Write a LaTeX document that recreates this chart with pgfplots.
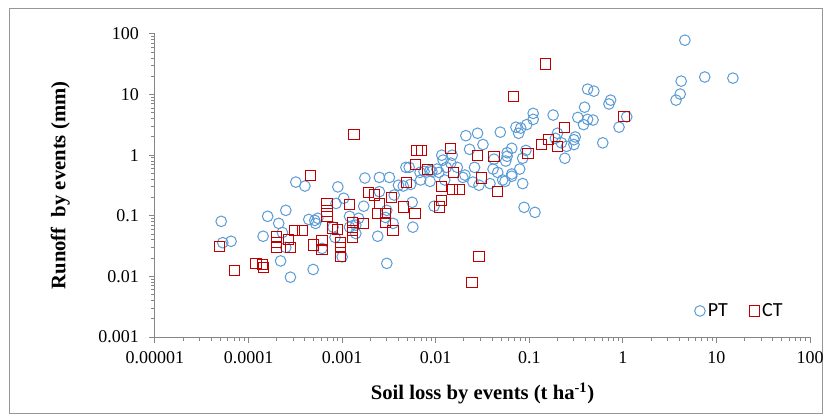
\documentclass[border=0pt]{standalone}
\usepackage{fontspec}
\setmainfont{Liberation Serif}
\newfontfamily\legendfont{Carlito}
\usepackage{pgfplots}
\pgfplotsset{compat=1.18}
\definecolor{ptblue}{RGB}{91,155,213}
\definecolor{ctred}{RGB}{192,0,0}
\definecolor{axgray}{RGB}{134,134,134}
\definecolor{framegray}{RGB}{150,150,150}

\pgfplotstableread{
x y
4.6 79
7.5 19.5
15 18.7
4.2 16.7
4.1 10.2
3.7 8.1
0.42 12.3
0.49 11.4
0.74 8.1
0.71 7.0
0.39 6.2
0.11 4.9
0.11 3.9
0.18 4.6
0.33 4.2
0.42 3.9
0.48 3.8
0.38 3.2
1.1 4.3
0.91 2.9
0.072 2.9
0.081 2.8
0.094 3.2
0.077 2.3
0.049 2.4
0.028 2.3
0.021 2.1
0.20 2.3
0.31 2.0
0.30 1.8
0.30 1.5
0.19 1.9
0.22 1.6
0.25 1.4
0.61 1.6
0.032 1.5
0.023 1.25
0.065 1.3
0.058 1.1
0.092 1.2
0.085 0.89
0.24 0.89
0.026 0.63
0.041 0.59
0.046 0.52
0.079 0.59
0.065 0.49
0.058 0.96
0.056 0.80
0.0116 1.0
0.012 0.83
0.015 1.0
0.0048 0.63
0.0052 0.63
0.017 0.63
0.0103 0.59
0.0091 0.54
0.0145 0.74
0.0205 0.47
0.065 0.45
0.052 0.39
0.038 0.34
0.029 0.32
0.085 0.34
0.055 0.37
0.088 0.138
0.115 0.114
0.013 0.63
0.0125 0.39
0.042 0.86
0.0195 0.43
0.025 0.36
0.0087 0.56
0.0108 0.52
0.0068 0.52
0.0075 0.54
0.0069 0.39
0.0087 0.37
0.0054 0.33
0.0040 0.32
0.0045 0.31
0.0036 0.22
0.0025 0.25
0.00175 0.42
0.0025 0.43
0.0032 0.43
0.0009 0.30
0.00104 0.195
0.0017 0.144
0.00086 0.16
0.0056 0.167
0.0096 0.144
0.0030 0.123
0.0029 0.094
0.0035 0.075
0.0057 0.065
0.0012 0.098
0.0015 0.091
0.0014 0.070
0.0014 0.051
0.0008 0.065
0.0012 0.065
0.0024 0.046
0.0010 0.021
0.0030 0.0164
0.00084 0.044
0.00032 0.36
0.00040 0.31
0.00049 0.013
0.00044 0.087
0.00051 0.084
0.00055 0.091
0.00052 0.075
0.000143 0.046
0.00016 0.098
0.00021 0.075
0.00025 0.123
0.00022 0.018
0.00028 0.0097
0.000051 0.081
0.000053 0.036
0.000065 0.038
0.00023 0.053
0.00025 0.030
0.00061 0.029
}\ptdata

\pgfplotstableread{
x y
0.15 32
0.068 9.4
0.00134 2.2
1.03 4.3
0.24 2.9
0.16 1.8
0.136 1.5
0.20 1.4
0.028 1.0
0.042 0.96
0.097 1.08
0.031 0.42
0.046 0.25
0.0116 0.30
0.015 0.27
0.018 0.27
0.0116 0.18
0.011 0.14
0.0145 1.3
0.0156 0.52
0.029 0.021
0.0244 0.0080
0.0063 1.2
0.0071 1.2
0.0061 0.71
0.0081 0.59
0.0049 0.36
0.00046 0.47
0.0019 0.24
0.0022 0.22
0.0025 0.16
0.0034 0.20
0.0045 0.14
0.0060 0.11
0.0024 0.11
0.0029 0.11
0.0029 0.078
0.0035 0.058
0.0012 0.155
0.00069 0.16
0.00069 0.12
0.00069 0.098
0.0013 0.078
0.0013 0.058
0.0013 0.044
0.0017 0.075
0.0009 0.060
0.00079 0.063
0.00097 0.036
0.00097 0.030
0.00097 0.021
0.000049 0.031
0.000070 0.0126
0.00012 0.0164
0.00014 0.0158
0.000143 0.0141
0.00020 0.046
0.00020 0.036
0.00020 0.030
0.00027 0.041
0.00031 0.058
0.00038 0.058
0.00028 0.030
0.00049 0.033
0.00061 0.039
0.00061 0.028
}\ctdata

\begin{document}
\begin{tikzpicture}
% 1 px of the reference = 0.75pt, origin at the lower left corner of the plot area
\useasboundingbox (-116.25pt,-59.25pt) rectangle (506.25pt,252.75pt);
\draw[framegray, line width=0.75pt] (-108.75pt,-57.5pt) rectangle (500.25pt,246pt);
\begin{axis}[
    at={(0pt,0pt)}, anchor=south west,
    scale only axis,
    width=491.25pt, height=227.25pt,
    xmode=log, ymode=log,
    xmin=1e-5, xmax=100,
    ymin=1e-3, ymax=100,
    axis x line*=bottom, axis y line*=left,
    x axis line style={-}, y axis line style={-},
    axis line style={axgray, line width=0.75pt},
    xtick={1e-5,1e-4,1e-3,0.01,0.1,1,10,100},
    xticklabels={0.00001,0.0001,0.001,0.01,0.1,1,10,100},
    ytick={1e-3,0.01,0.1,1,10,100},
    yticklabels={0.001,0.01,0.1,1,10,100},
    minor xtick={}, minor ytick={},
    tick align=outside,
    major tick length=4.5pt,
    tick style={axgray, line width=0.75pt},
    tick label style={font=\fontsize{13.5}{15}\selectfont},
    xticklabel shift=3pt,
    yticklabel shift=4pt,
    xlabel={Soil loss by events (t ha\textsuperscript{-1})},
    ylabel={Runoff\ \ by events (mm)},
    xlabel style={font=\fontsize{15.5}{18}\selectfont\bfseries,
        at={(axis description cs:0.5,0)}, anchor=center, yshift=-42pt},
    ylabel style={font=\fontsize{15.5}{18}\selectfont\bfseries,
        at={(axis description cs:-0.1445,0.5)}, anchor=center},
    legend style={at={(0.893,0.086)}, anchor=center, draw=none, fill=none,
        font=\legendfont\fontsize{15}{17}\selectfont,
        legend columns=2,
        /tikz/every even column/.append style={column sep=14pt}},
    clip=false,
]
\addplot[only marks, mark=o, mark size=4pt,
    mark options={draw=ptblue, line width=0.75pt}] table[x=x,y=y] {\ptdata};
\addplot[only marks, mark=square, mark size=3.8pt,
    mark options={draw=ctred, line width=0.75pt}] table[x=x,y=y] {\ctdata};
\legend{PT,CT}
\end{axis}
\end{tikzpicture}
\end{document}
